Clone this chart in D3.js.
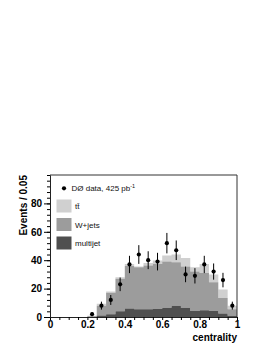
<!DOCTYPE html>
<html lang="en">
<head>
<meta charset="UTF-8" />
<title>centrality</title>
<script src="https://cdn.jsdelivr.net/npm/d3@7"></script>
<style>
  body { margin: 0; background: #fff; }
  svg { display: block; font-family: "Liberation Sans", Arial, sans-serif; }
</style>
</head>
<body>
<svg id="svg"></svg>
<script>
// bin lower edges (width 0.05)
const binLow = [0, 0.05, 0.1, 0.15, 0.2, 0.25, 0.3, 0.35, 0.4, 0.45,
                0.5, 0.55, 0.6, 0.65, 0.7, 0.75, 0.8, 0.85, 0.9, 0.95];

// stacked predictions (bottom to top)
const multijet = [0, 0, 0, 0, 0.2, 1, 2, 4, 6, 5.4, 5.4, 5.6, 6.5, 8, 6.5, 4.2, 4.8, 4.2, 2.4, 0.8];
const wjets    = [0, 0, 0, 0, 0.4, 7, 15, 23, 30, 29.6, 30.8, 31.8, 32.5, 30.5, 29, 27.8, 26.2, 20.3, 11, 4.7];
const ttbar    = [0, 0, 0, 0, 0.2, 1.4, 1, 1, 1.4, 0.5, 1.8, 2.4, 4.3, 5.5, 6.1, 3, 6.3, 5.5, 5.9, 2.5];

// data points
const dataX   = [0.225, 0.275, 0.325, 0.375, 0.425, 0.475, 0.525, 0.575,
                 0.625, 0.675, 0.725, 0.775, 0.825, 0.875, 0.925, 0.975];
const dataY   = [2, 8, 12, 23, 37, 44, 40, 39, 52, 47, 30, 29, 37, 32, 26, 8];
const dataErr = [1.4, 2.8, 3.5, 4.8, 6.1, 6.6, 6.3, 6.2, 7.2, 6.9, 5.5, 5.4, 6.1, 5.7, 5.1, 2.8];

const xTicks = [0, 0.2, 0.4, 0.6, 0.8, 1];
const yTicks = [0, 20, 40, 60, 80];

const colors = { multijet: "#4f4f4f", wjets: "#9c9c9c", ttbar: "#d0d0d0" };

const width = 270, height = 349;
const m = { left: 50, right: 33, top: 175, bottom: 32 };

const svg = d3.select("#svg").attr("width", width).attr("height", height);

const x = d3.scaleLinear().domain([0, 1]).range([m.left, width - m.right]);
const y = d3.scaleLinear().domain([0, 100]).range([height - m.bottom, m.top]);

// stacked histogram
const rows = binLow.map((b, i) => ({ low: b, multijet: multijet[i], wjets: wjets[i], ttbar: ttbar[i] }));
rows.push(Object.assign({}, rows[rows.length - 1], { low: 1 }));
const series = d3.stack().keys(["multijet", "wjets", "ttbar"])(rows);

const area = d3.area()
  .curve(d3.curveStepAfter)
  .x(d => x(d.data.low))
  .y0(d => y(d[0]))
  .y1(d => y(d[1]));

svg.append("g")
  .selectAll("path")
  .data(series.slice().reverse())
  .join("path")
  .attr("d", area)
  .attr("fill", d => colors[d.key])
  .attr("stroke", "none");

// error bars and points
const pts = svg.append("g");
pts.selectAll("line")
  .data(dataX)
  .join("line")
  .attr("x1", d => x(d)).attr("x2", d => x(d))
  .attr("y1", (d, i) => y(dataY[i] - dataErr[i]))
  .attr("y2", (d, i) => y(dataY[i] + dataErr[i]))
  .attr("stroke", "#000").attr("stroke-width", 1);
pts.selectAll("circle")
  .data(dataX)
  .join("circle")
  .attr("cx", d => x(d))
  .attr("cy", (d, i) => y(dataY[i]))
  .attr("r", 2.1)
  .attr("fill", "#000");

// frame
svg.append("path")
  .attr("d", `M${x(0)},${y(100)}H${x(1)}V${y(0)}`)
  .attr("fill", "none").attr("stroke", "#333").attr("stroke-width", 1);

// axes
const xAxis = svg.append("g")
  .attr("transform", `translate(0,${y(0)})`)
  .call(d3.axisBottom(x).tickValues(d3.range(0, 1.001, 0.05)).tickSize(3).tickFormat(""));
xAxis.call(g => g.select(".domain").attr("stroke", "#222"));
svg.append("g")
  .attr("transform", `translate(0,${y(0)})`)
  .call(d3.axisBottom(x).tickValues(xTicks).tickSize(0).tickPadding(4).tickFormat(d3.format("")))
  .call(g => g.select(".domain").remove())
  .selectAll("text")
  .attr("font-size", 10).attr("font-weight", "bold").attr("font-family", "Liberation Sans, Arial, sans-serif");

const yMinor = svg.append("g")
  .attr("transform", `translate(${x(0)},0)`)
  .call(d3.axisLeft(y).tickValues(d3.range(0, 100.1, 4)).tickSize(3).tickFormat(""));
yMinor.call(g => g.select(".domain").attr("stroke", "#222"));
svg.append("g")
  .attr("transform", `translate(${x(0)},0)`)
  .call(d3.axisLeft(y).tickValues(yTicks).tickSize(6).tickPadding(2))
  .call(g => g.select(".domain").remove())
  .selectAll("text")
  .attr("font-size", 10).attr("font-weight", "bold").attr("font-family", "Liberation Sans, Arial, sans-serif");

// axis titles
svg.append("text")
  .attr("x", x(1)).attr("y", 341)
  .attr("text-anchor", "end")
  .attr("font-size", 10).attr("font-weight", "bold").attr("fill", "#000")
  .text("centrality");
svg.append("text")
  .attr("transform", `translate(26.5,${m.top}) rotate(-90)`)
  .attr("text-anchor", "end")
  .attr("font-size", 10).attr("font-weight", "bold").attr("fill", "#000")
  .text("Events / 0.05");

// legend
const leg = svg.append("g").attr("font-size", 8).attr("fill", "#111");
leg.append("circle").attr("cx", 64).attr("cy", 188.3).attr("r", 2.1).attr("fill", "#000");
const dt = leg.append("text").attr("x", 71.5).attr("y", 191).attr("fill", "#111");
dt.append("tspan").text("DØ data, 425 pb");
dt.append("tspan").attr("dy", -3).attr("font-size", 5.5).text("-1");

const legItems = [
  { key: "ttbar", label: "t\u0074\u0304" },
  { key: "wjets", label: "W+jets" },
  { key: "multijet", label: "multijet" }
];
legItems.forEach((d, i) => {
  const cy = 206 + i * 18.5;
  leg.append("rect").attr("x", 56.5).attr("y", cy - 6.5).attr("width", 15).attr("height", 13)
    .attr("fill", colors[d.key]);
  leg.append("text").attr("x", 75).attr("y", cy + 3).attr("fill", "#111").text(d.label);
});
</script>
</body>
</html>
